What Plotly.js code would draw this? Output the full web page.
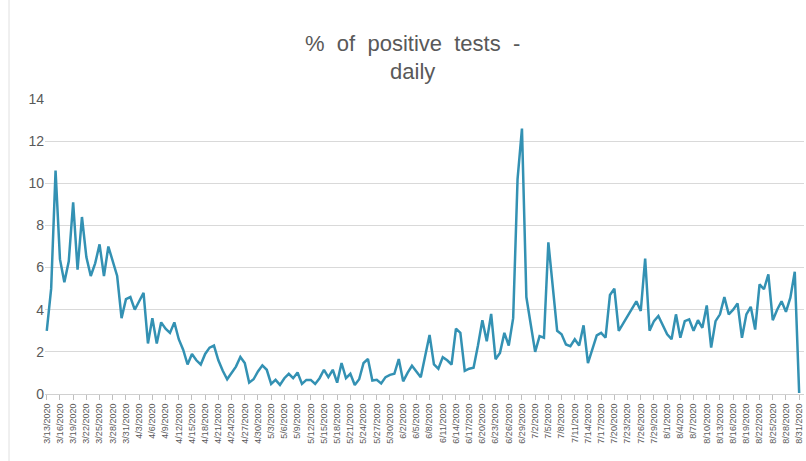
<!DOCTYPE html>
<html>
<head>
<meta charset="utf-8">
<script src="https://cdn.plot.ly/plotly-3.0.1.min.js"></script>
<style>html,body{margin:0;padding:0;background:#fff;}#chart{width:806px;height:461px;}</style>
</head>
<body>
<div id="chart"></div>
<script>
// Category range: daily from 3/13/2020 to 8/31/2020
const startDate = [2020, 3, 13];
const dayCount = 172;

// % of positive tests, daily
const positivePct = [
  3.0, 5.0, 10.6, 6.4, 5.3, 6.3, 9.1, 5.9, 8.4, 6.5,
  5.6, 6.2, 7.1, 5.6, 7.0, 6.3, 5.6, 3.6, 4.5, 4.6,
  4.0, 4.4, 4.8, 2.4, 3.6, 2.4, 3.4, 3.1, 2.9, 3.4,
  2.6, 2.1, 1.4, 1.9, 1.6, 1.4, 1.9, 2.2, 2.3, 1.6,
  1.1, 0.7, 1.0, 1.3, 1.76, 1.47, 0.54, 0.70, 1.07, 1.36,
  1.15, 0.48, 0.67, 0.43, 0.75, 0.96, 0.75, 1.02, 0.48, 0.67,
  0.67, 0.48, 0.75, 1.15, 0.80, 1.15, 0.54, 1.47, 0.75, 0.96,
  0.43, 0.70, 1.47, 1.66, 0.64, 0.67, 0.50, 0.80, 0.91, 0.96,
  1.66, 0.60, 1.00, 1.34, 1.07, 0.80, 1.80, 2.80, 1.4, 1.2,
  1.75, 1.6, 1.4, 3.1, 2.9, 1.1, 1.2, 1.25, 2.3, 3.5,
  2.5, 3.8, 1.65, 1.95, 2.9, 2.3, 3.6, 10.2, 12.6, 4.6,
  3.3, 2.0, 2.75, 2.67, 7.2, 5.0, 3.0, 2.83, 2.35, 2.27,
  2.6, 2.3, 3.26, 1.47, 2.1, 2.78, 2.9, 2.67, 4.7, 5.0,
  3.0, 3.35, 3.7, 4.05, 4.4, 3.94, 6.43, 3.0, 3.46, 3.7,
  3.3, 2.83, 2.6, 3.78, 2.67, 3.46, 3.54, 3.0, 3.5, 3.14,
  4.2, 2.2, 3.46, 3.78, 4.6, 3.78, 4.0, 4.3, 2.67, 3.78,
  4.14, 3.06, 5.2, 4.97, 5.68, 3.5, 4.0, 4.4, 3.9, 4.57,
  5.8, 0.05
];

const yTickVals = [0, 2, 4, 6, 8, 10, 12, 14];
const tickEvery = 3;
const chartTitle = "%\u00a0\u00a0of\u00a0\u00a0positive\u00a0\u00a0tests\u00a0\u00a0-<br>daily";

// build category labels m/d/yyyy
const dates = [];
{
  const d0 = new Date(startDate[0], startDate[1] - 1, startDate[2]);
  for (let i = 0; i < dayCount; i++) {
    const d = new Date(d0.getFullYear(), d0.getMonth(), d0.getDate() + i);
    dates.push((d.getMonth() + 1) + "/" + d.getDate() + "/" + d.getFullYear());
  }
}
const tickDates = dates.filter((_, i) => i % tickEvery === 0);

const grey = '#595959';
const trace = {
  x: dates,
  y: positivePct,
  type: 'scatter',
  mode: 'lines',
  line: {color: '#3391b3', width: 2.5},
  hoverinfo: 'skip'
};

const layout = {
  width: 806,
  height: 461,
  margin: {l: 45, r: 2, t: 99, b: 67},
  paper_bgcolor: '#ffffff',
  plot_bgcolor: '#ffffff',
  showlegend: false,
  font: {family: 'Liberation Sans, Arial, sans-serif', color: grey},
  title: {
    text: chartTitle,
    font: {family: 'Liberation Sans, Arial, sans-serif', size: 22, color: grey},
    x: 0.512, xanchor: 'center',
    y: 0.89, yanchor: 'top',
    yref: 'container'
  },
  xaxis: {
    type: 'category',
    range: [-0.4, 172.1],
    tickmode: 'array',
    tickvals: tickDates,
    ticktext: tickDates,
    tickangle: -90,
    tickfont: {size: 9, color: grey},
    ticks: 'outside',
    ticklen: 5,
    tickcolor: '#bfbfbf',
    showline: true,
    linecolor: '#d0d0d0',
    linewidth: 1,
    showgrid: false,
    zeroline: false,
    fixedrange: true
  },
  yaxis: {
    range: [0, 14],
    tickmode: 'array',
    tickvals: yTickVals,
    tickfont: {size: 14, color: grey},
    showgrid: true,
    gridcolor: '#d9d9d9',
    gridwidth: 1,
    showline: false,
    zeroline: false,
    ticks: '',
    fixedrange: true
  },
  shapes: [
    {type: 'line', xref: 'paper', yref: 'paper',
     x0: (9 - 45) / 759, x1: (9 - 45) / 759, y0: -67 / 295, y1: 1 + 99 / 295,
     line: {color: '#e0e0e0', width: 1}}
  ]
};

Plotly.newPlot('chart', [trace], layout, {staticPlot: true, displayModeBar: false});
</script>
</body>
</html>
